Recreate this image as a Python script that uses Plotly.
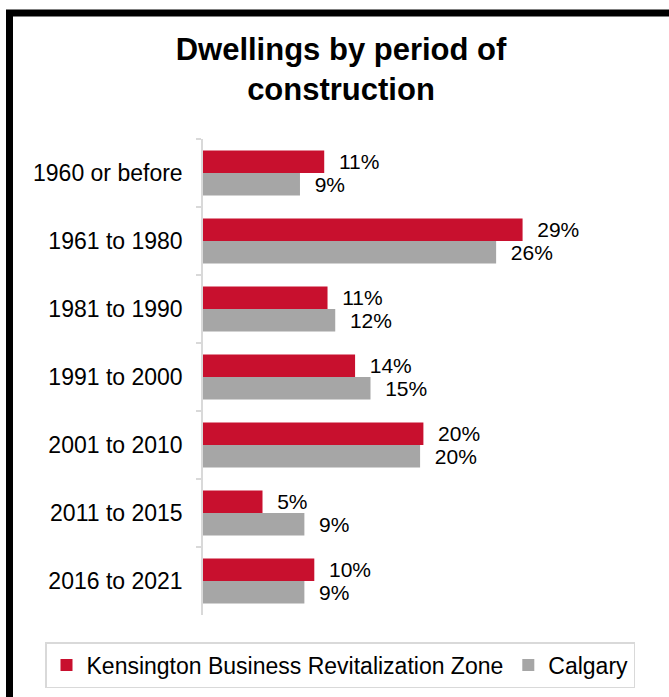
import plotly.graph_objects as go

categories = ["1960 or before", "1961 to 1980", "1981 to 1990", "1991 to 2000",
              "2001 to 2010", "2011 to 2015", "2016 to 2021"]
kensington = [11.0, 29.0, 11.3, 13.8, 20.0, 5.4, 10.1]
calgary = [8.8, 26.6, 12.0, 15.2, 19.7, 9.2, 9.2]
kens_labels = ["11%", "29%", "11%", "14%", "20%", "5%", "10%"]
calg_labels = ["9%", "26%", "12%", "15%", "20%", "9%", "9%"]

RED = "#C8102E"
GREY = "#A6A6A6"
FONT = "Liberation Sans, Arial, sans-serif"

fig = go.Figure()
fig.add_trace(go.Bar(
    y=categories, x=kensington, orientation="h", name="Kensington Business Revitalization Zone",
    marker=dict(color=RED, line=dict(width=0)),
    text=["\u00a0\u00a0" + t for t in kens_labels], textposition="outside",
    textfont=dict(size=21, color="#000000", family=FONT),
    constraintext="none", cliponaxis=False, hoverinfo="skip",
))
fig.add_trace(go.Bar(
    y=categories, x=calgary, orientation="h", name="Calgary",
    marker=dict(color=GREY, line=dict(width=0)),
    text=["\u00a0\u00a0" + t for t in calg_labels], textposition="outside",
    textfont=dict(size=21, color="#000000", family=FONT),
    constraintext="none", cliponaxis=False, hoverinfo="skip",
))

W, H = 669, 697
ml, mr, mt, mb = 203, 0, 139, 82
pw, ph = W - ml - mr, H - mt - mb
px_per_pct = 11.02
xmax = pw / px_per_pct

fig.update_layout(
    width=W, height=H,
    margin=dict(l=ml, r=mr, t=mt, b=mb, pad=0),
    paper_bgcolor="white", plot_bgcolor="white",
    barmode="group", bargap=0.34, bargroupgap=0,
    font=dict(family=FONT, size=20, color="#000000"),
    title=dict(text="<b>Dwellings by period of<br>construction</b>",
               x=341 / W, xanchor="center", y=1 - 60 / H, yanchor="top",
               font=dict(size=31, family=FONT, color="#000000")),
    xaxis=dict(range=[0, xmax], visible=False, showgrid=False, zeroline=False),
    yaxis=dict(autorange="reversed", type="category", showline=True, linecolor="#D9D9D9",
               linewidth=1.5, ticks="outside", tickson="boundaries", ticklen=5,
               tickcolor="#D9D9D9", tickwidth=1.5, showgrid=False,
               ticklabelstandoff=14,
               tickfont=dict(size=23, family=FONT, color="#000000")),
    legend=dict(orientation="h", xref="paper", yref="paper",
                x=(45 - ml) / pw, xanchor="left",
                y=-(642 - (H - mb)) / ph, yanchor="top",
                bordercolor="#D9D9D9", borderwidth=1.5,
                font=dict(size=23, family=FONT, color="#000000"),
                traceorder="normal", itemwidth=30),
    showlegend=True,
    shapes=[dict(type="rect", xref="paper", yref="paper",
                 x0=-(ml - 9.5) / pw, x1=1.5,
                 y0=-1.0, y1=1 + (mt - 13) / ph,
                 line=dict(color="black", width=7), fillcolor="rgba(0,0,0,0)", layer="above")],
)

fig.write_html("out.html", config={"displayModeBar": False},
               post_script="document.body.style.margin='0px';document.body.style.overflow='hidden';")
